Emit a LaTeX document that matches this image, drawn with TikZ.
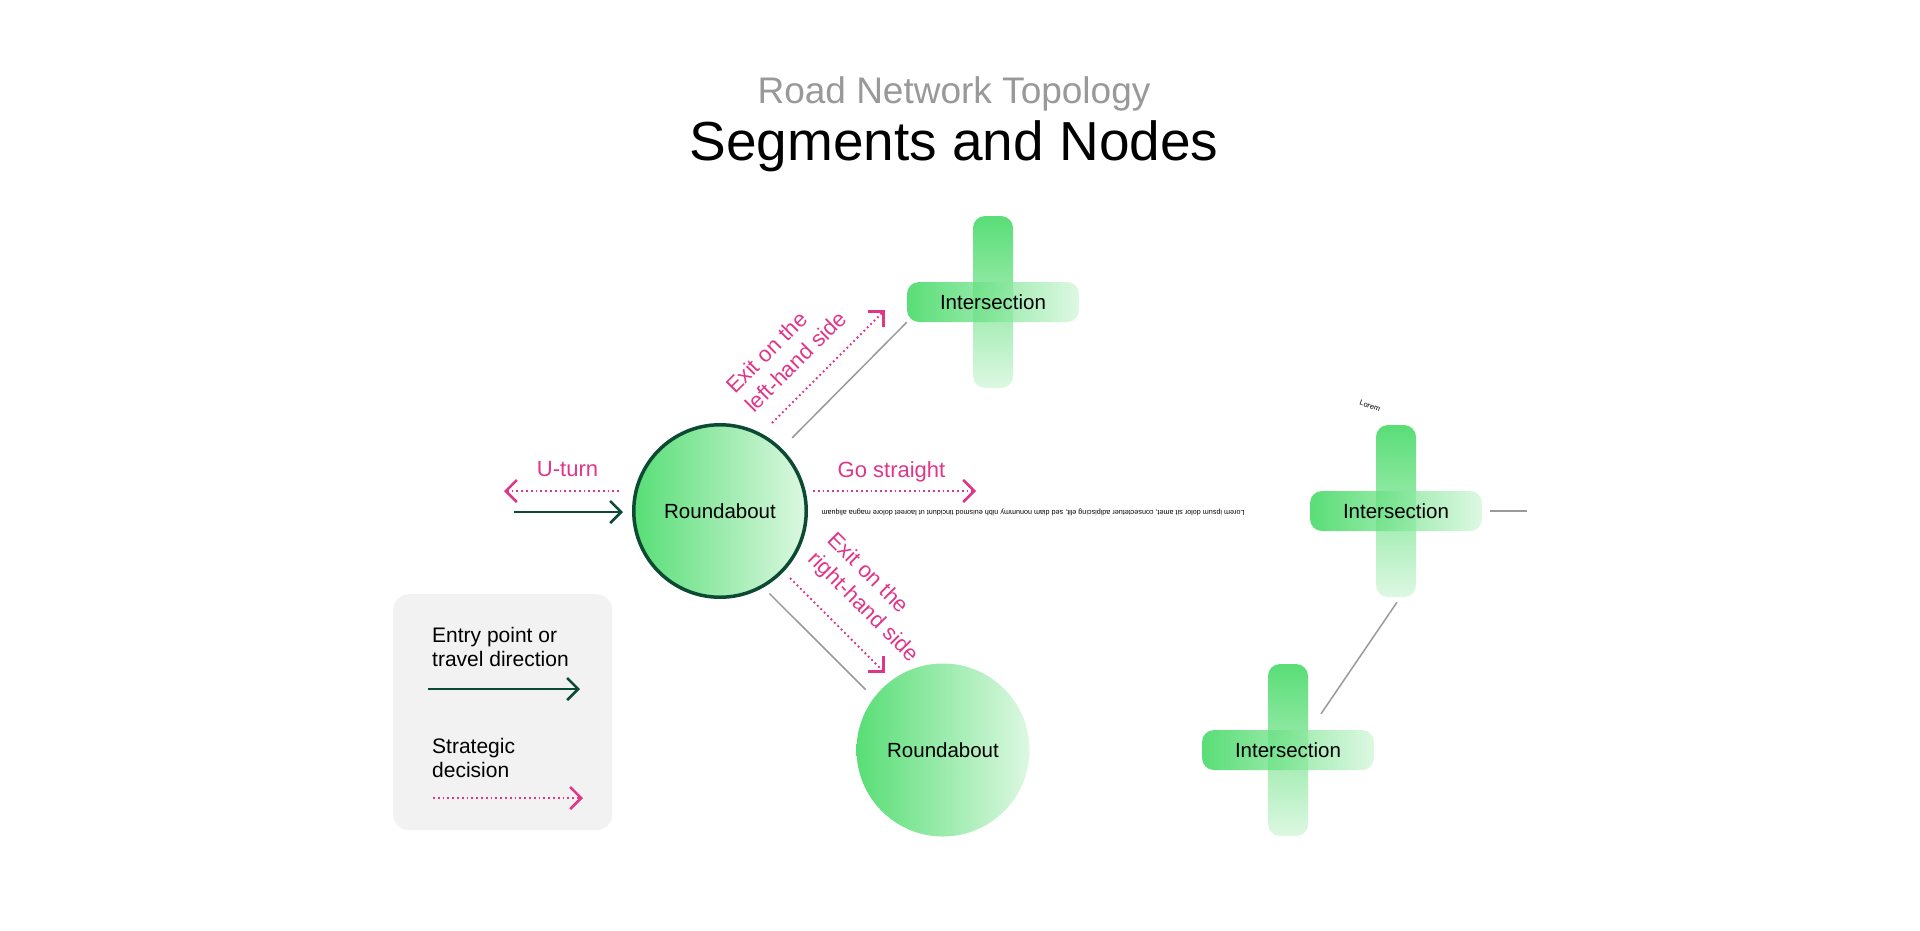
\documentclass[tikz,border=0pt]{standalone}
\usepackage{fontspec}
\setmainfont{Liberation Sans}
\usetikzlibrary{arrows.meta,calc}
\definecolor{pinkc}{HTML}{E0368A}
\definecolor{dgreen}{HTML}{0D4A33}
\definecolor{gA}{HTML}{58DE76}
\definecolor{gB}{HTML}{DDF8E2}
\definecolor{barA}{RGB}{35,211,74}
\definecolor{barB}{RGB}{210,246,217}
\definecolor{roadc}{HTML}{9A9A9A}
\definecolor{legbg}{HTML}{F2F2F2}
\definecolor{titlegray}{HTML}{999999}
\newcommand\fsz[2]{\fontsize{#1}{#2}\selectfont}
\begin{document}
\begin{tikzpicture}[x=1pt,y=-1pt,
  rbstyle/.style={circle, inner sep=0pt, left color=gA, right color=gB, font=\fsz{20.5}{24}, text=black},
  hbar/.style={rectangle, rounded corners=12pt, minimum width=172pt, minimum height=40pt, inner sep=0pt,
    left color=barA, right color=barB, fill opacity=0.75, text opacity=1, font=\fsz{20.5}{24}, text=black},
  vbar/.style={rectangle, rounded corners=12pt, minimum width=40pt, minimum height=172pt, inner sep=0pt,
    top color=barA, bottom color=barB, fill opacity=0.75},
  road/.style={draw=roadc, line width=1.5pt},
  pinkarrow/.style={draw=pinkc, line width=1.8pt, dash pattern=on 1.8pt off 3pt,
    -{Straight Barb[length=11pt,width=22pt,line width=2.6pt]}},
  greenarrow/.style={draw=dgreen, line width=2.4pt,
    -{Straight Barb[length=11pt,width=22pt,line width=2.6pt]}},
  pinklabel/.style={text=pinkc, font=\fsz{22}{27}, inner sep=0pt},
  legtext/.style={font=\fsz{21}{24}, text=black, inner sep=0pt, align=left}
]
\path[use as bounding box, fill=white] (0,0) rectangle (1920,930);

% titles
\node[anchor=base, text=titlegray, font=\fsz{37}{44}, inner sep=0pt] (sub) at (954,103) {Road Network Topology};
\node[anchor=base, text=black, font=\fsz{55}{66}, inner sep=0pt] (title) at (954,160) {Segments and Nodes};

% intersections
\node[vbar] (i1v) at (993,302) {};
\node[hbar] (i1) at (993,302) {Intersection};
\node[vbar] (i2v) at (1396,511) {};
\node[hbar] (i2) at (1396,511) {Intersection};
\node[vbar] (i3v) at (1288,750) {};
\node[hbar] (i3) at (1288,750) {Intersection};

% roundabouts
\node[rbstyle, draw=dgreen, line width=3.5pt, minimum size=172.5pt] (rb1) at (720,511) {Roundabout};
\node[rbstyle, minimum size=173pt] (rb2) at (943,750) {Roundabout};

% roads
\coordinate (stub) at (1527,511);
\draw[road] ([shift={(10,-11)}]rb1.45) -- (i1.south west);
\draw[road] ([shift={(4,7)}]rb1.-59) -- ([shift={(-9,-7)}]rb2.142);
\draw[road] ([shift={(1,5)}]i2v.south) -- ([shift={(33,-16)}]i3.north);
\draw[road] ([xshift=8]i2.east) -- (stub);

% connector label (upside down)
\node[font=\fsz{7.2}{8}, rotate=180, inner sep=0pt] (lorem) at (1033,512) {Lorem ipsum dolor sit amet, consectetuer adipiscing elit, sed diam nonummy nibh euismod tincidunt ut laoreet dolore magna aliquam};
\node[font=\fsz{7.5}{8}, rotate=-20, inner sep=0pt] (lorem2) at (1370,406) {Lorem};

% decision arrows
\coordinate (uS) at (619,491); \coordinate (uE) at (504,491);
\coordinate (gS) at (813,491); \coordinate (gE) at (976,491);
\coordinate (lS) at (772,423); \coordinate (lE) at (885,310);
\coordinate (rS) at (790,578); \coordinate (rE) at (885,673);
\coordinate (eS) at (514,512); \coordinate (eE) at (623,512);
\draw[pinkarrow] (uS) -- (uE);
\draw[pinkarrow] (gS) -- (gE);
\draw[pinkarrow] (lS) -- (lE);
\draw[pinkarrow] (rS) -- (rE);
\draw[greenarrow] (eS) -- (eE);

\node[pinklabel, anchor=base] (lbU) at (567.5,476) {U-turn};
\node[pinklabel, anchor=base] (lbG) at (891.5,477) {Go straight};
\node[pinklabel, rotate=45, align=left] (lbL) at (786,352) {Exit on the\\left-hand side};
\node[pinklabel, rotate=-45, align=left] (lbR) at (872,598) {Exit on the\\right-hand side};

% legend
\node[fill=legbg, rounded corners=16pt, minimum width=219pt, minimum height=236pt, anchor=north west, inner sep=0pt] (legend) at (393,594) {};
\node[legtext, anchor=base west] (leg1) at (432,666) {Entry point or\\travel direction};
\node[legtext, anchor=base west] (leg2) at (432,777) {Strategic\\decision};
\coordinate (lg1s) at (428,689); \coordinate (lg1e) at (580,689);
\coordinate (lg2s) at (433,798); \coordinate (lg2e) at (583,798);
\draw[greenarrow] (lg1s) -- (lg1e);
\draw[pinkarrow] (lg2s) -- (lg2e);
\end{tikzpicture}
\end{document}
